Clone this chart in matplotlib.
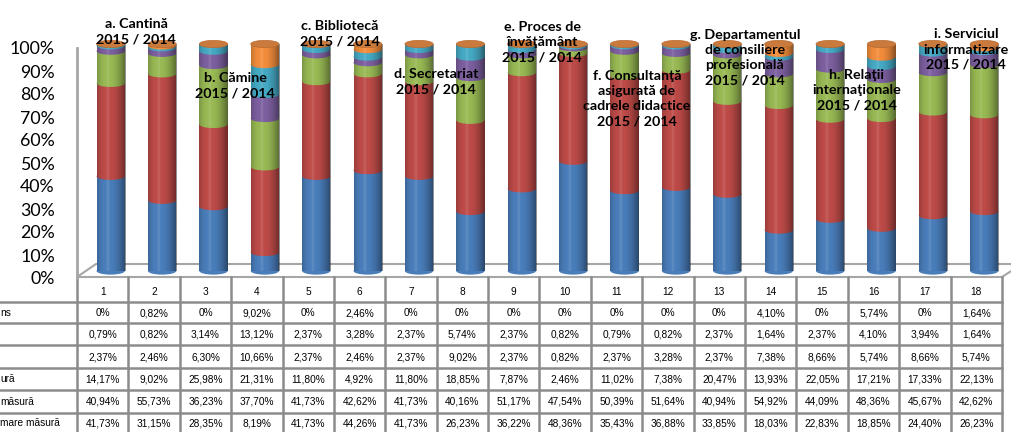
import numpy as np
import matplotlib
matplotlib.use("Agg")
import matplotlib.pyplot as plt
from matplotlib.patches import Ellipse, Polygon
from matplotlib.lines import Line2D
from matplotlib.ticker import PercentFormatter

W, H = 1012, 432

bars = list(range(1, 19))

# series, bottom to top
blue = [41.73, 31.15, 28.35, 8.19, 41.73, 44.26, 41.73, 26.23, 36.22, 48.36, 35.43, 36.88, 33.85, 18.03, 22.83, 18.85, 24.40, 26.23]
red = [40.94, 55.73, 36.23, 37.70, 41.73, 42.62, 41.73, 40.16, 51.17, 47.54, 50.39, 51.64, 40.94, 54.92, 44.09, 48.36, 45.67, 42.62]
green = [14.17, 9.02, 25.98, 21.31, 11.80, 4.92, 11.80, 18.85, 7.87, 2.46, 11.02, 7.38, 20.47, 13.93, 22.05, 17.21, 17.33, 22.13]
purple = [2.37, 2.46, 6.30, 10.66, 2.37, 2.46, 2.37, 9.02, 2.37, 0.82, 2.37, 3.28, 2.37, 7.38, 8.66, 5.74, 8.66, 5.74]
cyan = [0.79, 0.82, 3.14, 13.12, 2.37, 3.28, 2.37, 5.74, 2.37, 0.82, 0.79, 0.82, 2.37, 1.64, 2.37, 4.10, 3.94, 1.64]
orange = [0, 0.82, 0, 9.02, 0, 2.46, 0, 0, 0, 0, 0, 0, 0, 4.10, 0, 5.74, 0, 1.64]

series = [blue, red, green, purple, cyan, orange]
colors = ["#4a7ebb", "#be4b48", "#98b954", "#7d60a0", "#46aac5", "#f38d3c"]

# table rows, top to bottom (labels are cut off at the left edge)
row_labels = ["ns", "", "", "ură", "măsură", "mare măsură"]
row_series = [orange, cyan, purple, green, red, blue]

notes = [
    (136, "a. Cantină\n2015 / 2014", 31.5),
    (235, "b. Cămine\n2015 / 2014", 85.5),
    (340, "c. Bibliotecă\n2015 / 2014", 34),
    (436, "d. Secretariat\n2015 / 2014", 82),
    (542, "e. Proces de\nînvăţământ\n2015 / 2014", 42.5),
    (637, "f. Consultanţă\nasigurată de\ncadrele didactice\n2015 / 2014", 98.5),
    (745, "g. Departamentul\nde consiliere\nprofesională\n2015 / 2014", 57.5),
    (857, "h. Relaţii\ninternaţionale\n2015 / 2014", 90),
    (966, "i. Serviciul\ninformatizare\n2015 / 2014", 49.5),
]

fig = plt.figure(figsize=(W / 100, H / 100), dpi=100)

# pixel canvas for floor and table
canvas = fig.add_axes([0, 0, 1, 1], zorder=0)
canvas.set_xlim(0, W)
canvas.set_ylim(H, 0)
canvas.axis("off")

grid_c = "#8c8c8c"
canvas.add_patch(Polygon([(77, 277), (1002, 277), (1022, 264), (96, 264)],
                         closed=True, facecolor="white", edgecolor="#a6a6a6", lw=1.5))

col_w = (1002 - 77) / 18
row_y = [302, 323, 345, 368, 390, 413, 436]
for y in row_y[:-1]:
    canvas.add_line(Line2D([0, 1002], [y, y], color=grid_c, lw=1.8))
for k in range(19):
    x = 77 + k * col_w
    canvas.add_line(Line2D([x, x], [277, H], color=grid_c, lw=1.8))

tfont = dict(family="Liberation Sans", fontsize=7.3, color="black")
for i, b in enumerate(bars):
    cx = 77 + (i + 0.5) * col_w
    canvas.text(cx, 292, str(b), ha="center", va="center", **tfont)
for r, (lab, vals) in enumerate(zip(row_labels, row_series)):
    cy = (row_y[r] + row_y[r + 1]) / 2 + 0.5
    if r == len(row_labels) - 1:
        cy = 423
    canvas.text(0, cy, lab, ha="left", va="center", **tfont)
    for i, v in enumerate(vals):
        cx = 77 + (i + 0.5) * col_w
        s = "0%" if v == 0 else f"{v:.2f}%".replace(".", ",")
        canvas.text(cx, cy, s, ha="center", va="center", **tfont)

# back wall with percent axis
wall = fig.add_axes([77 / W, (H - 278) / H, (1002 - 77) / W, (278 - 48) / H], zorder=1)
wall.set_facecolor("none")
wall.set_ylim(0, 100)
wall.set_yticks(range(0, 101, 10))
wall.yaxis.set_major_formatter(PercentFormatter(decimals=0))
wall.set_xticks([])
for s in ["top", "right", "bottom"]:
    wall.spines[s].set_visible(False)
wall.spines["left"].set_color("#a6a6a6")
wall.spines["left"].set_linewidth(2)
wall.tick_params(axis="y", length=0, pad=16, labelsize=12.8)
for t in wall.get_yticklabels():
    t.set_fontfamily("Lato")

# cylinders
ax = fig.add_axes([85 / W, (H - 271) / H, 925 / W, 227 / H], zorder=2)
ax.set_facecolor("none")
bw = 0.55
eh = 3.2

tpos = np.linspace(0, 1, 80)
shade = np.where(tpos < 0.3, -0.2 * ((0.3 - tpos) / 0.3) ** 2,
                 np.where(tpos < 0.45, 0.14 * (1 - np.abs(tpos - 0.375) / 0.075).clip(0),
                          -0.45 * ((tpos - 0.45) / 0.55) ** 1.8))
grad = np.zeros((1, len(tpos), 4))
grad[0, :, :3] = np.where(shade[:, None] > 0, 1.0, 0.0)
grad[0, :, 3] = np.abs(shade)

bottom = np.zeros(len(bars))
for vals, c in zip(series, colors):
    vals = np.array(vals)
    ax.bar(bars, vals, width=bw, bottom=bottom, color=c, linewidth=0, zorder=2, clip_on=False)
    for x, b0, v in zip(bars, bottom, vals):
        if v > 0:
            ax.add_patch(Ellipse((x, b0), bw, eh, facecolor=c, lw=0, zorder=2, clip_on=False))
    bottom = bottom + vals

for x, top in zip(bars, bottom):
    ax.imshow(grad, extent=(x - bw / 2, x + bw / 2, 0, top), aspect="auto",
              interpolation="bicubic", zorder=3, clip_on=False)
    ax.add_patch(Ellipse((x, top), bw, eh, facecolor="#c97a3c", edgecolor="#b86a30",
                         lw=0.5, zorder=4, clip_on=False))

ax.set_xlim(0.5, 18.5)
ax.set_ylim(0, 100)
ax.axis("off")

for x, txt, y in notes:
    fig.text(x / W, 1 - y / H, txt, ha="center", va="center", fontsize=10.3,
             fontweight="bold", family="Lato", linespacing=1.32, zorder=5)

fig.savefig("out.png", dpi=100)
